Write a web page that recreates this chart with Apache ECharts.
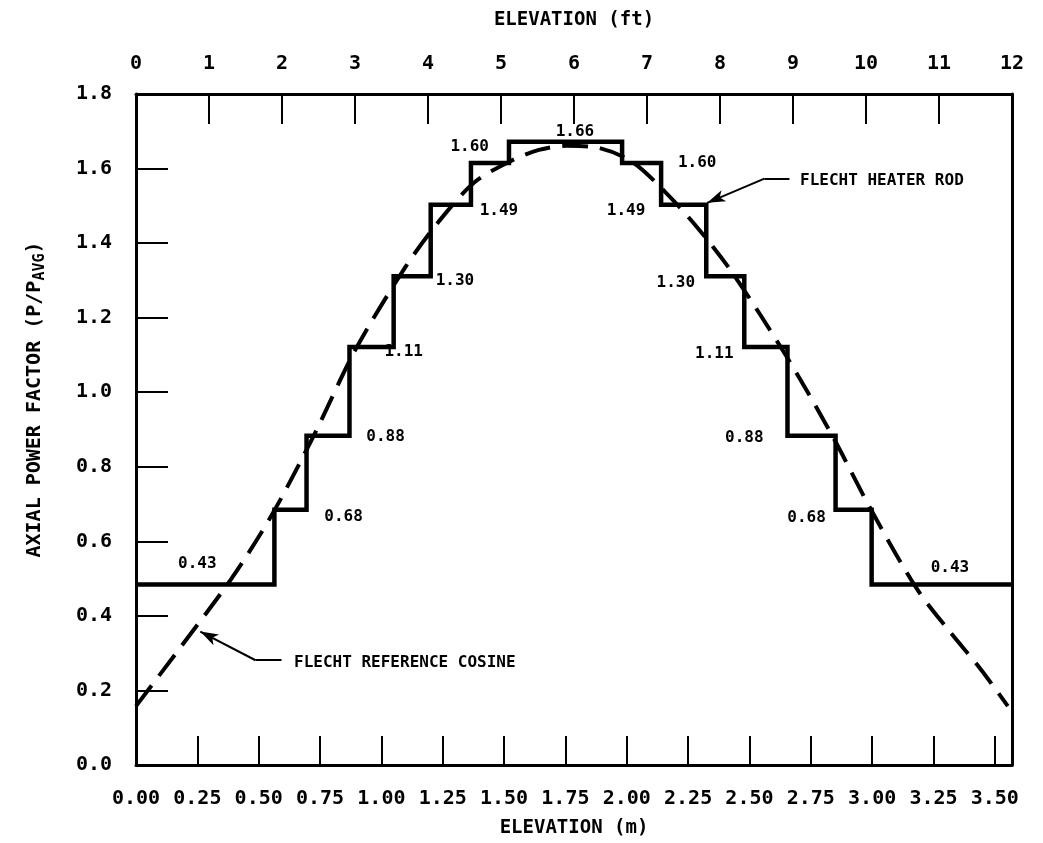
<!DOCTYPE html>
<html>
<head>
<meta charset="utf-8">
<script src="https://cdn.jsdelivr.net/npm/echarts@6/dist/echarts.min.js"></script>
<style>html,body{margin:0;padding:0;background:#fff}#c{width:1043px;height:843px}</style>
</head>
<body>
<div id="c"></div>
<script>
// Heater rod step profile: elevation boundaries (m) and step levels (as drawn)
const stepEdges = [0, 0.564, 0.695, 0.870, 1.050, 1.201, 1.365, 1.520, 1.981, 2.140, 2.324, 2.479, 2.655, 2.851, 2.998, 3.57];
const stepLevels = [0.484, 0.685, 0.883, 1.121, 1.311, 1.503, 1.615, 1.672, 1.615, 1.503, 1.311, 1.121, 0.883, 0.685, 0.484];
// Reference cosine (dashed) points
const cosX = [0, 0.193, 0.389, 0.552, 0.724, 0.895, 1.099, 1.234, 1.377, 1.520, 1.642, 1.753, 1.888, 2.022, 2.160, 2.295, 2.430, 2.650, 2.838, 2.998, 3.182, 3.316, 3.440, 3.553];
const cosY = [0.158, 0.326, 0.500, 0.669, 0.883, 1.115, 1.337, 1.458, 1.562, 1.618, 1.650, 1.661, 1.655, 1.618, 1.535, 1.436, 1.321, 1.097, 0.883, 0.682, 0.473, 0.358, 0.259, 0.158];
// Step value labels
const valueLabels = ['0.43', '0.68', '0.88', '1.11', '1.30', '1.49', '1.60', '1.66', '1.60', '1.49', '1.30', '1.11', '0.88', '0.68', '0.43'];
const valueLabelX = [0.25, 0.846, 1.017, 1.091, 1.30, 1.479, 1.36, 1.789, 2.287, 1.997, 2.20, 2.357, 2.479, 2.733, 3.317];
const valueLabelY = [0.540, 0.666, 0.880, 1.107, 1.299, 1.487, 1.658, 1.698, 1.615, 1.487, 1.294, 1.104, 0.877, 0.663, 0.529];
// Callout texts and anchors (data coords)
const calloutTexts = ['FLECHT HEATER ROD', 'FLECHT REFERENCE COSINE'];
const calloutX = [2.704, 0.642];
const calloutY = [1.567, 0.275];
const heaterLeader = [[2.663, 1.573], [2.561, 1.573], [2.328, 1.508]];
const cosineLeader = [[0.593, 0.281], [0.487, 0.281], [0.262, 0.358]];
// Axis ranges
const xMaxM = 3.57;
const yTicksMax = 1.8;

const stepData = [];
for (let i = 0; i < stepLevels.length; i++) {
  stepData.push([stepEdges[i], stepLevels[i]]);
  stepData.push([stepEdges[i + 1], stepLevels[i]]);
}
const cosData = cosX.map((x, i) => [x, cosY[i]]);
const lblData = valueLabels.map((t, i) => [valueLabelX[i], valueLabelY[i], t]);
const callData = calloutTexts.map((t, i) => [calloutX[i], calloutY[i], t]);

const FONT = "'DejaVu Sans Mono', 'Liberation Mono', monospace";
const leader = (pts) => [
  [{coord: pts[0], symbol: 'none'}, {coord: pts[1], symbol: 'none'}],
  [{coord: pts[1], symbol: 'none'}, {coord: pts[2], symbol: 'arrow', symbolSize: [9, 18]}]
];
const txt = (size) => ({fontFamily: FONT, fontSize: size, fontWeight: 'bold', color: '#000',
  textBorderWidth: 0, textBorderColor: 'transparent', opacity: 1});

const chart = echarts.init(document.getElementById('c'));
chart.setOption({
  animation: false,
  backgroundColor: '#fff',
  grid: {left: 136, right: 31, top: 94, bottom: 76},
  xAxis: [
    {
      type: 'value', position: 'bottom', min: 0, max: xMaxM, interval: 0.25,
      name: 'ELEVATION (m)', nameLocation: 'middle', nameGap: 54,
      nameTextStyle: {fontFamily: FONT, fontSize: 19, fontWeight: 'bold', color: '#000'},
      axisLine: {show: true, onZero: false, lineStyle: {color: '#000', width: 3}},
      axisTick: {show: true, inside: true, length: 29, lineStyle: {color: '#000', width: 2}},
      axisLabel: {
        fontFamily: FONT, fontSize: 20, fontWeight: 'bold', color: '#000', margin: 24, showMaxLabel: false,
        formatter: v => (Math.abs(v / 0.25 - Math.round(v / 0.25)) < 1e-6 ? v.toFixed(2) : '')
      },
      splitLine: {show: false}
    },
    {
      type: 'value', position: 'top', min: 0, max: 12, interval: 1,
      name: 'ELEVATION (ft)', nameLocation: 'middle', nameGap: 64,
      nameTextStyle: {fontFamily: FONT, fontSize: 19, fontWeight: 'bold', color: '#000'},
      axisLine: {show: true, onZero: false, lineStyle: {color: '#000', width: 3}},
      axisTick: {show: true, inside: true, length: 30, lineStyle: {color: '#000', width: 2}},
      axisLabel: {fontFamily: FONT, fontSize: 20, fontWeight: 'bold', color: '#000', margin: 20},
      splitLine: {show: false}
    }
  ],
  yAxis: [
    {
      type: 'value', position: 'left', min: 0, max: yTicksMax, interval: 0.2,
      name: 'AXIAL POWER FACTOR (P/P{sub|AVG})', nameLocation: 'middle', nameGap: 88,
      nameTextStyle: {
        fontFamily: FONT, fontSize: 20, fontWeight: 'bold', color: '#000', padding: [0, 0, 0, 60],
        rich: {sub: {fontFamily: FONT, fontSize: 15, fontWeight: 'bold', color: '#000', padding: [12, 0, 0, 0]}}
      },
      axisLine: {show: true, onZero: false, lineStyle: {color: '#000', width: 3}},
      axisTick: {show: true, inside: true, length: 32, lineStyle: {color: '#000', width: 2}},
      axisLabel: {fontFamily: FONT, fontSize: 20, fontWeight: 'bold', color: '#000', margin: 24, formatter: v => v.toFixed(1)},
      splitLine: {show: false}
    },
    {
      type: 'value', position: 'right', min: 0, max: yTicksMax,
      axisLine: {show: true, onZero: false, lineStyle: {color: '#000', width: 3}},
      axisTick: {show: false}, axisLabel: {show: false}, splitLine: {show: false}
    }
  ],
  series: [
    {
      name: 'FLECHT heater rod', type: 'line', xAxisIndex: 0, yAxisIndex: 0,
      data: stepData, symbol: 'none', silent: true,
      lineStyle: {color: '#000', width: 4.5, join: 'miter'}
    },
    {
      name: 'FLECHT reference cosine', type: 'line', xAxisIndex: 0, yAxisIndex: 0,
      data: cosData, symbol: 'none', smooth: 0.3, silent: true,
      lineStyle: {color: '#000', width: 4, type: [26, 12]}
    },
    {
      name: 'values', type: 'scatter', xAxisIndex: 0, yAxisIndex: 0, silent: true,
      data: lblData, symbolSize: 1, itemStyle: {color: '#fff', opacity: 1},
      label: Object.assign({show: true, position: 'inside', formatter: p => p.value[2]}, txt(16))
    },
    {
      name: 'callouts', type: 'scatter', xAxisIndex: 0, yAxisIndex: 0, silent: true,
      data: callData, symbolSize: 1, itemStyle: {color: '#fff', opacity: 1},
      label: Object.assign({show: true, position: 'right', distance: 0, formatter: p => p.value[2]}, txt(16)),
      markLine: {
        silent: true, animation: false,
        symbol: ['none', 'none'],
        label: {show: false},
        lineStyle: {color: '#000', width: 2, type: 'solid', opacity: 1},
        data: leader(heaterLeader).concat(leader(cosineLeader))
      }
    }
  ]
});
</script>
</body>
</html>
